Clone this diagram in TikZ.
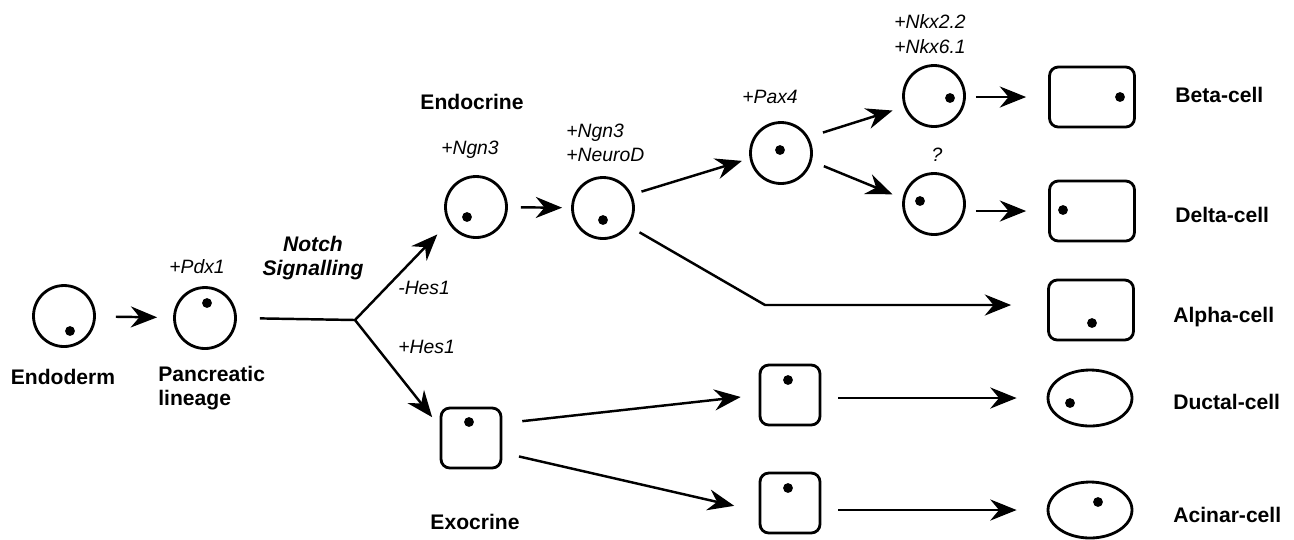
\documentclass[tikz,border=0pt]{standalone}
\usepackage{fontspec}
\setmainfont{Liberation Sans}
\usetikzlibrary{arrows.meta,shapes.geometric}

\begin{document}
\begin{tikzpicture}[x=0.02cm,y=-0.02cm,
        cell/.style={circle,draw,line width=1.6pt,minimum size=1.22cm,inner sep=0pt},
        mature/.style={rectangle,draw,line width=1.6pt,rounded corners=5pt,
          minimum width=1.7cm,minimum height=1.2cm,inner sep=0pt},
        exo/.style={rectangle,draw,line width=1.6pt,rounded corners=5pt,
          minimum size=1.2cm,inner sep=0pt},
        oval/.style={ellipse,draw,line width=1.6pt,minimum width=1.68cm,
          minimum height=1.12cm,inner sep=0pt},
        arr/.style={-{Stealth[length=15pt,width=12pt,inset=5pt]},line width=1.4pt},
        ln/.style={line width=1.4pt},
        gene/.style={font=\fontsize{11}{14}\selectfont\itshape,align=left},
        tag/.style={font=\fontsize{12}{13.5}\selectfont\bfseries,align=left}]
        \useasboundingbox (0,0) rectangle (1294,539);
        % cells
        \node[cell] (endo) at (64,316) {};
        \node[cell] (panc) at (205,318) {};
        \coordinate (branch) at (355,320);
        \node[cell] (ngn) at (476,207) {};
        \node[cell] (neuro) at (603,208) {};
        \node[cell] (pax) at (781,153) {};
        \node[cell] (beta0) at (934,96) {};
        \node[cell] (delta0) at (934,204) {};
        \node[mature] (betaR) at (1092,97) {};
        \node[mature] (deltaR) at (1092,211) {};
        \node[mature] (alphaR) at (1091,310) {};
        \coordinate (bend) at (765,305);
        \node[exo] (exo) at (471,438) {};
        \node[exo] (duct0) at (790,395) {};
        \node[exo] (acin0) at (790,503) {};
        \node[oval] (ductE) at (1090,398) {};
        \node[oval] (acinE) at (1090,510) {};
        % nuclei
        \foreach \p in {(70,331),(207,303),(467,217),(603,220),(780,150),(950,98),
            (920,201),(1120,97),(1063,210),(1092,323),(469,422),(788,380),
            (788,488),(1070,403),(1098,502)}
          \fill \p circle (2.8pt);
        % connectors
        \draw[arr,shorten <=0.4cm,shorten >=0.32cm] (endo) -- (panc);
        \draw[ln,shorten <=0.46cm] (panc.east) -- (branch);
        \draw[arr,shorten >=0.32cm] (branch) -- (ngn.210);
        \draw[arr,shorten >=0.24cm] (branch) -- (exo.160);
        \draw[arr,shorten <=0.26cm,shorten >=0.18cm] (ngn) -- (neuro);
        \draw[arr,shorten <=0.2cm,shorten >=0.16cm] (neuro.25) -- (pax.190);
        \draw[arr,shorten <=0.3cm,shorten >=0.24cm] (pax.30) -- (beta0.200);
        \draw[arr,shorten <=0.26cm,shorten >=0.22cm] (pax.-15) -- (delta0.170);
        \draw[arr,shorten <=0.2cm,shorten >=0.44cm] (beta0.east |- betaR.west) -- (betaR.west);
        \draw[arr,shorten <=0.2cm,shorten >=0.44cm] (delta0.east |- deltaR.west) -- (deltaR.west);
        \draw[arr,shorten <=0.24cm,shorten >=0.72cm] (neuro.-35) -- (bend) -- (bend -| alphaR.west);
        \draw[arr,shorten <=0.4cm,shorten >=0.36cm] (exo.25) -- (duct0.west);
        \draw[arr,shorten <=0.34cm,shorten >=0.5cm] (exo.-25) -- (acin0.195);
        \draw[arr,shorten <=0.34cm,shorten >=0.6cm] (duct0.east |- ductE.west) -- (ductE.west);
        \draw[arr,shorten <=0.34cm,shorten >=0.6cm] (acin0.east |- acinE.west) -- (acinE.west);
        % labels
        \node[gene] (lPdx) at (197,267) {+Pdx1};
        \node[tag,font=\fontsize{12}{13.5}\selectfont\bfseries\itshape,align=center] (lNotch) at (313,258) {Notch\\Signalling};
        \node[gene,anchor=west,inner sep=0pt] (lHesM) at (398,288) {-Hes1};
        \node[gene,anchor=west,inner sep=0pt] (lHesP) at (398,347) {+Hes1};
        \node[tag] (lEndocr) at (472,102) {Endocrine};
        \node[gene] (lNgn) at (470,150) {+Ngn3};
        \node[gene,anchor=west,inner sep=0pt] (lNeuro) at (566,143) {+Ngn3\\+NeuroD};
        \node[gene] (lPax) at (770,97) {+Pax4};
        \node[gene] (lNkx) at (930,34) {+Nkx2.2\\+Nkx6.1};
        \node[gene] (lQ) at (937,155) {?};
        \node[tag,anchor=west,inner sep=0pt] (lBeta) at (1175,95) {Beta-cell};
        \node[tag,anchor=west,inner sep=0pt] (lDelta) at (1175,215) {Delta-cell};
        \node[tag,anchor=west,inner sep=0pt] (lAlpha) at (1173,317) {Alpha-cell};
        \node[tag,anchor=west,inner sep=0pt] (lDuct) at (1173,402) {Ductal-cell};
        \node[tag,anchor=west,inner sep=0pt] (lAcin) at (1173,515) {Acinar-cell};
        \node[tag] (lEndo) at (63,377) {Endoderm};
        \node[tag,anchor=west,inner sep=0pt] (lPanc) at (158,388) {Pancreatic\\lineage};
        \node[tag] (lExo) at (475,522) {Exocrine};
\end{tikzpicture}
\end{document}
